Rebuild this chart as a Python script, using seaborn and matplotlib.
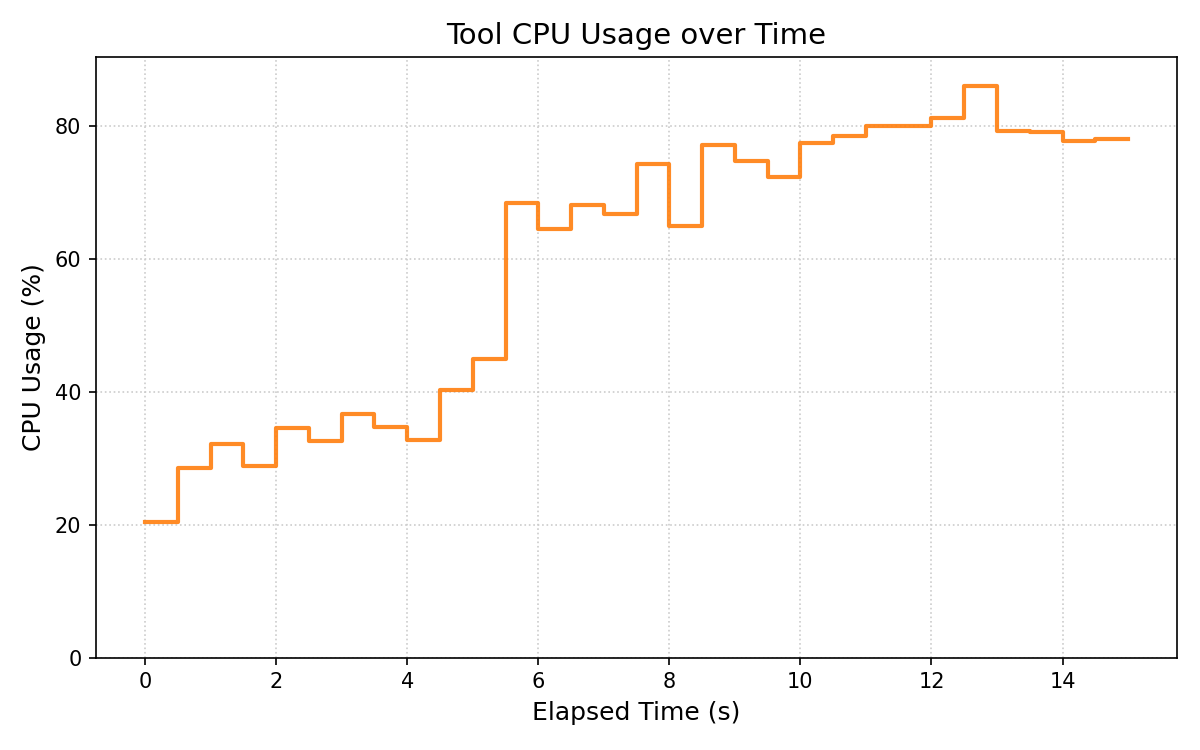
import matplotlib

matplotlib.use("Agg")
import matplotlib.pyplot as plt
import numpy as np
import pandas as pd
import seaborn as sns

elapsed_s = np.arange(0, 15.01, 0.5)
cpu_pct = [
    20.4, 28.5, 32.2, 28.8, 34.5, 32.6, 36.6, 34.7, 32.8, 40.3,
    44.9, 68.3, 64.5, 68.1, 66.7, 74.2, 64.9, 77.1, 74.6, 72.3,
    77.3, 78.5, 80.0, 80.0, 81.1, 86.0, 79.2, 79.0, 77.6, 77.9,
    77.9,
]

df = pd.DataFrame({"elapsed": elapsed_s, "cpu": cpu_pct})

# plain matplotlib look, seaborn only draws the line
plt.rcParams["font.family"] = ["DejaVu Sans"]

fig, ax = plt.subplots(figsize=(8, 5), dpi=150)
sns.lineplot(
    data=df,
    x="elapsed",
    y="cpu",
    ax=ax,
    drawstyle="steps-post",
    color="#ff7f0e",
    alpha=0.9,
    linewidth=2,
)
ax.grid(True, linestyle=":", color="#cccccc", linewidth=0.8)
ax.set_axisbelow(True)
ax.set_ylim(0, max(cpu_pct) * 1.05)
ax.set_title("Tool CPU Usage over Time", fontsize=14)
ax.set_xlabel("Elapsed Time (s)", fontsize=12)
ax.set_ylabel("CPU Usage (%)", fontsize=12)
fig.subplots_adjust(left=0.08, right=0.981, top=0.924, bottom=0.123)
fig.savefig("out.png")
